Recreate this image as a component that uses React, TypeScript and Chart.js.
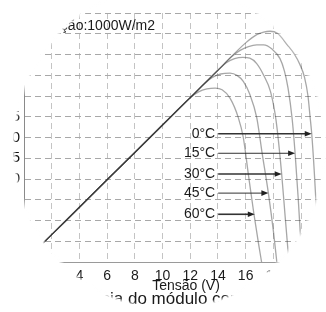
import React, { useEffect, useRef } from "react";
import { Chart, registerables } from "chart.js";

Chart.register(...registerables);

// ---- data ----
const seriesLabels = ["0°C", "15°C", "30°C", "45°C", "60°C"];

const voltage0 = [0, 2, 4, 6, 8, 10, 12, 14, 16, 16.8, 17.3, 17.76, 18.3, 18.99, 19.5, 19.93, 20.25, 20.5, 20.65, 20.77, 20.95, 21.15, 21.3];
const power0 = [0, 6.6, 13.2, 19.8, 26.4, 33.0, 39.6, 46.2, 52.8, 54.8, 55.4, 55.6, 55.1, 52.4, 50.2, 47.5, 44.5, 40, 35, 30.9, 22, 10, 0];

const voltage15 = [0, 2, 4, 6, 8, 10, 12, 14, 15, 15.6, 16.2, 16.8, 17.3, 17.9, 18.48, 18.8, 19.06, 19.35, 19.57, 19.8, 19.98, 20.08];
const power15 = [0, 6.6, 13.2, 19.8, 26.4, 33.0, 39.6, 46.2, 49.5, 51.0, 51.9, 52.3, 52.3, 51.3, 49.0, 46.0, 41.9, 34.7, 26.2, 15, 5, 0];

const voltage30 = [0, 2, 4, 6, 8, 10, 12, 14, 14.6, 15.2, 15.8, 16.3, 16.8, 17.3, 17.8, 18.2, 18.6, 18.85, 19.05, 19.12];
const power30 = [0, 6.6, 13.2, 19.8, 26.4, 33.0, 39.6, 46.2, 48.0, 49.0, 49.3, 49.1, 47.8, 45.0, 41.0, 34.0, 21.2, 11, 3, 0];

const voltage45 = [0, 2, 4, 6, 8, 10, 12, 13, 13.6, 14.2, 14.87, 15.4, 15.83, 16.3, 16.8, 17.2, 17.64, 18.0, 18.25];
const power45 = [0, 6.6, 13.2, 19.8, 26.4, 33.0, 39.6, 42.9, 44.5, 45.3, 45.5, 44.9, 43.5, 40.4, 34.8, 26.0, 16.6, 7.5, 0];

const voltage60 = [0, 2, 4, 6, 8, 10, 12, 12.6, 13.2, 13.8, 14.3, 14.87, 15.47, 15.83, 16.2, 16.6, 16.95, 17.15];
const power60 = [0, 6.6, 13.2, 19.8, 26.4, 33.0, 39.6, 41.0, 41.7, 41.9, 41.5, 39.5, 34.8, 30.0, 21.0, 11.5, 4.0, 0];

const voltages = [voltage0, voltage15, voltage30, voltage45, voltage60];
const powers = [power0, power15, power30, power45, power60];

// arrow annotations (data coordinates)
const arrowTipV = [20.77, 19.57, 18.6, 17.64, 16.66];
const arrowTipP = [30.9, 26.2, 21.2, 16.6, 11.5];
const labelV = 13.8;

// axes
const xMin = 0;
const xMax = 21.8;
const xStep = 2;
const yMin = 0;
const yMax = 60;
const yStep = 5;

// texts
const irradianceText = "Irradiação:1000W/m2";
const xTitleText = "Tensão (V)";
const chartTitleText = "Curva de potência do módulo com a temperatura";
const titlePrefix = "Curva de potênc";

const FONT = "'Liberation Sans', Arial, Helvetica, sans-serif";

export default function App() {
  const ref = useRef<HTMLCanvasElement | null>(null);

  useEffect(() => {
    const canvas = ref.current;
    if (!canvas) return;

    const overlay = {
      id: "overlay",
      afterDraw(chart: any) {
        const { ctx, chartArea, scales } = chart;
        const xs = scales.x;
        const ys = scales.y;
        ctx.save();

        // arrows with labels
        for (let i = 0; i < seriesLabels.length; i++) {
          const y = ys.getPixelForValue(arrowTipP[i]);
          const lx = xs.getPixelForValue(labelV);
          const tx = xs.getPixelForValue(arrowTipV[i]);
          ctx.fillStyle = "#1a1a1a";
          ctx.font = `14px ${FONT}`;
          ctx.textAlign = "right";
          ctx.textBaseline = "middle";
          ctx.fillText(seriesLabels[i], lx, y);
          ctx.strokeStyle = "#333";
          ctx.lineWidth = i % 2 === 0 ? 1.6 : 1;
          ctx.beginPath();
          ctx.moveTo(lx + 3, y);
          ctx.lineTo(tx - 5, y);
          ctx.stroke();
          ctx.fillStyle = "#222";
          ctx.beginPath();
          ctx.moveTo(tx, y);
          ctx.lineTo(tx - 7, y - 2.8);
          ctx.lineTo(tx - 7, y + 2.8);
          ctx.closePath();
          ctx.fill();
        }

        // irradiance text
        ctx.font = `14px ${FONT}`;
        ctx.fillStyle = "#1a1a1a";
        ctx.textAlign = "right";
        ctx.textBaseline = "middle";
        ctx.fillText(irradianceText, chartArea.left + 131, chartArea.top + 13);

        // x axis title
        ctx.font = `14px ${FONT}`;
        ctx.textAlign = "center";
        ctx.textBaseline = "alphabetic";
        ctx.fillText(xTitleText, (chartArea.left + chartArea.right) / 2 + 11, chartArea.bottom + 28);

        // chart title
        ctx.font = `17px ${FONT}`;
        ctx.textAlign = "left";
        const pre = ctx.measureText(titlePrefix).width;
        ctx.fillText(chartTitleText, 110 - pre, chartArea.bottom + 42);

        // vignette (elliptical fade of the scanned figure)
        const cx = 169.5, cy = 147, rx = 157, ry = 163;
        ctx.translate(cx, cy);
        ctx.scale(1, ry / rx);
        const g = ctx.createRadialGradient(0, 0, rx * 0.975, 0, 0, rx * 1.0);
        g.addColorStop(0, "rgba(255,255,255,0)");
        g.addColorStop(1, "rgba(255,255,255,1)");
        ctx.fillStyle = g;
        ctx.fillRect(-rx * 3, -rx * 3, rx * 6, rx * 6);
        ctx.restore();
      },
    };

    const datasets = seriesLabels.map((label, i) => ({
      label,
      data: voltages[i].map((v, j) => ({ x: v, y: powers[i][j] })),
      borderColor: "rgba(45,45,45,0.42)",
      borderWidth: 1.3,
      pointRadius: 0,
      fill: false,
      cubicInterpolationMode: "monotone" as const,
    }));

    const chart = new Chart(canvas, {
      type: "line",
      data: { datasets },
      options: {
        animation: false,
        responsive: false,
        devicePixelRatio: 1,
        layout: { padding: { top: 11, right: 0, left: 0, bottom: 0 } },
        plugins: {
          legend: { display: false },
          tooltip: { enabled: false },
          title: { display: false },
        },
        scales: {
          x: {
            type: "linear",
            min: xMin,
            max: xMax,
            afterFit: (s: any) => {
              s.height = 50;
            },
            ticks: {
              stepSize: xStep,
              includeBounds: false,
              autoSkip: false,
              padding: 6,
              color: "#1a1a1a",
              font: { family: FONT, size: 14 },
              maxRotation: 0,
            },
            grid: { color: "#c4c4c4", lineWidth: 1, drawTicks: false },
            border: { display: true, color: "#9a9a9a", width: 1, dash: [6, 4] },
          },
          y: {
            type: "linear",
            min: yMin,
            max: yMax,
            afterFit: (s: any) => {
              s.width = 24;
            },
            ticks: {
              stepSize: yStep,
              autoSkip: false,
              padding: 4,
              color: "#111",
              font: { family: FONT, size: 15 },
            },
            grid: { color: "#a8a8a8", lineWidth: 1, drawTicks: false },
            border: { display: true, color: "#8a8a8a", width: 1, dash: [6, 4] },
          },
        },
      },
      plugins: [overlay],
    });

    return () => chart.destroy();
  }, []);

  return (
    <div style={{ position: "absolute", left: 0, top: 0, width: 326, height: 312, background: "#fff" }}>
      <canvas ref={ref} width={326} height={312} style={{ display: "block", width: 326, height: 312 }} />
    </div>
  );
}
